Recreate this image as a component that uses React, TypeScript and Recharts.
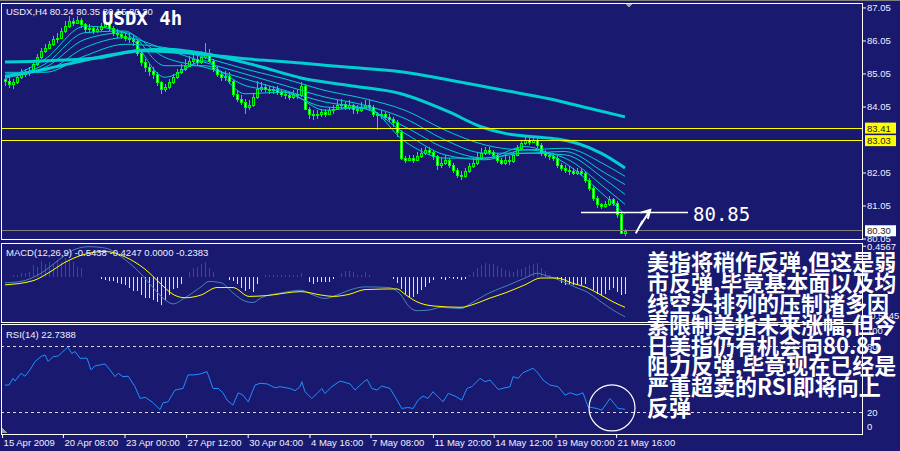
import React from 'react';
import { Bar, ComposedChart, Line, ReferenceDot, ReferenceLine, XAxis, YAxis } from 'recharts';

// H4 bars (each bar opens at the previous close)
const firstOpen = 84.9;
const closes = [
  84.85, 84.75, 84.8, 84.95, 85.05, 85.1, 85.15, 85.35, 85.55, 85.75,
  85.85, 85.95, 86.1, 86.15, 86.35, 86.5, 86.65, 86.6, 86.7, 86.55,
  86.4, 86.45, 86.35, 86.4, 86.5, 86.6, 86.45, 86.3, 86.25, 86.2,
  86.15, 86.1, 86.05, 85.7, 85.4, 85.25, 85.15, 85.05, 84.8, 84.6,
  84.65, 84.8, 84.95, 85.1, 85.2, 85.3, 85.45, 85.5, 85.4, 85.55,
  85.7, 85.45, 85.2, 85.05, 84.95, 85.0, 84.85, 84.45, 84.3, 84.2,
  84.05, 84.1, 84.35, 84.6, 84.65, 84.6, 84.55, 84.6, 84.5, 84.45,
  84.4, 84.35, 84.45, 84.4, 84.7, 84.0, 83.85, 83.8, 83.85, 83.9,
  83.85, 83.95, 84.0, 84.1, 84.15, 84.05, 84.1, 84.0, 83.95, 84.05,
  84.1, 84.05, 83.85, 83.8, 83.85, 83.75, 83.7, 83.6, 83.3, 82.5,
  82.45, 82.5, 82.45, 82.55, 82.65, 82.75, 82.7, 82.55, 82.3, 82.35,
  82.45, 82.3, 82.15, 82.0, 81.95, 82.1, 82.25, 82.35, 82.5, 82.65,
  82.75, 82.7, 82.6, 82.45, 82.35, 82.45, 82.4, 82.6, 82.8, 82.95,
  83.05, 83.0, 83.05, 82.9, 82.65, 82.6, 82.55, 82.5, 82.3, 82.2,
  82.15, 82.1, 82.05, 82.1, 82.05, 81.85, 81.6, 81.3, 81.1, 81.05,
  81.1, 81.25, 81.15, 80.8, 80.24, 80.3,
];
const highs = [
  84.98, 84.95, 84.9, 85.05, 85.2, 85.2, 85.25, 85.45, 85.65, 85.85,
  85.95, 86.05, 86.2, 86.3, 86.45, 86.65, 86.8, 86.75, 86.8, 86.75,
  86.6, 86.55, 86.5, 86.5, 86.6, 86.75, 86.65, 86.5, 86.4, 86.35,
  86.3, 86.25, 86.2, 86.1, 85.75, 85.5, 85.35, 85.25, 85.1, 84.85,
  84.75, 84.9, 85.05, 85.2, 85.35, 85.5, 85.6, 85.65, 85.6, 85.75,
  86.0, 85.8, 85.5, 85.3, 85.15, 85.15, 85.1, 84.9, 84.55, 84.4,
  84.3, 84.25, 84.45, 84.85, 84.8, 84.75, 84.7, 84.7, 84.7, 84.6,
  84.55, 84.5, 84.55, 84.55, 84.8, 84.75, 84.05, 83.95, 83.95, 84.0,
  84.0, 84.05, 84.1, 84.25, 84.3, 84.2, 84.25, 84.15, 84.1, 84.2,
  84.25, 84.25, 84.1, 83.9, 83.95, 83.9, 83.85, 83.75, 83.65, 83.35,
  82.55, 82.6, 82.6, 82.7, 82.8, 82.85, 82.85, 82.75, 82.6, 82.5,
  82.6, 82.5, 82.35, 82.2, 82.1, 82.2, 82.35, 82.5, 82.65, 82.8,
  82.85, 82.85, 82.75, 82.65, 82.5, 82.55, 82.55, 82.7, 82.9, 83.05,
  83.15, 83.15, 83.15, 83.1, 82.95, 82.75, 82.7, 82.65, 82.55, 82.35,
  82.3, 82.25, 82.2, 82.2, 82.2, 82.1, 81.9, 81.65, 81.35, 81.15,
  81.2, 81.35, 81.3, 81.2, 80.85, 80.35,
];
const lows = [
  84.7, 84.62, 84.6, 84.75, 84.9, 84.95, 85.0, 85.1, 85.3, 85.5,
  85.7, 85.8, 85.9, 86.0, 86.1, 86.3, 86.45, 86.5, 86.55, 86.45,
  86.3, 86.3, 86.25, 86.3, 86.35, 86.45, 86.35, 86.2, 86.15, 86.1,
  86.05, 86.0, 85.9, 85.6, 85.3, 85.1, 85.0, 84.9, 84.7, 84.45,
  84.5, 84.6, 84.75, 84.9, 85.05, 85.15, 85.25, 85.35, 85.3, 85.35,
  85.5, 85.4, 85.1, 84.95, 84.85, 84.85, 84.75, 84.35, 84.2, 84.1,
  83.85, 83.95, 84.05, 84.3, 84.5, 84.5, 84.45, 84.45, 84.4, 84.35,
  84.3, 84.25, 84.3, 84.3, 84.35, 83.95, 83.7, 83.65, 83.7, 83.75,
  83.75, 83.8, 83.85, 83.95, 84.0, 83.95, 83.95, 83.85, 83.85, 83.9,
  84.0, 83.95, 83.75, 83.35, 83.7, 83.65, 83.6, 83.45, 83.15, 82.45,
  82.35, 82.4, 82.35, 82.4, 82.5, 82.6, 82.6, 82.45, 82.15, 82.2,
  82.3, 82.2, 82.05, 81.9, 81.85, 81.9, 82.05, 82.2, 82.3, 82.45,
  82.6, 82.6, 82.5, 82.35, 82.3, 82.3, 82.3, 82.35, 82.55, 82.75,
  82.9, 82.9, 82.95, 82.8, 82.55, 82.5, 82.45, 82.4, 82.2, 82.1,
  82.05, 82.0, 82.0, 82.0, 81.95, 81.75, 81.5, 81.2, 81.0, 80.95,
  81.0, 81.05, 81.05, 80.7, 80.2, 80.15,
];

const priceTicks = [87.05, 86.05, 85.05, 84.05, 82.05, 81.05, 80.05];
const resistance = [83.41, 83.03];
const lastPrice = 80.3;
const target = 80.85;

// moving-average ribbon, [bar, value]
const maSlowA = [[0, 85.41], [11, 85.45], [24, 85.55], [34, 85.75], [49, 85.65], [61, 85.5], [74, 85.38], [86, 85.25], [99, 85.12], [111, 84.87], [124, 84.57], [136, 84.3], [146, 84.01], [155, 83.75]];
const maSlowB = [[0, 84.97], [7, 85.12], [15, 85.33], [24, 85.57], [34, 85.77], [40, 85.8], [52, 85.62], [63, 85.3], [74, 84.93], [86, 84.7], [99, 84.45], [111, 83.9], [119, 83.45], [125, 83.25], [132, 83.15], [138, 83.08], [143, 82.95], [149, 82.65], [155, 82.2]];
const ribbonBars = [0, 10, 20, 30, 40, 50, 60, 70, 80, 90, 100, 110, 120, 130, 140, 150, 155];
const ribbon = [
  [84.9, 85.5, 86.5, 86.3, 84.95, 85.45, 84.45, 84.5, 83.95, 84.05, 83.0, 82.5, 82.5, 82.85, 82.35, 81.35, 80.8],
  [84.95, 85.35, 86.3, 86.35, 85.3, 85.3, 84.7, 84.5, 84.05, 84.0, 83.25, 82.6, 82.45, 82.75, 82.5, 81.6, 81.1],
  [85.0, 85.25, 86.1, 86.3, 85.55, 85.25, 84.9, 84.55, 84.2, 84.0, 83.45, 82.8, 82.5, 82.65, 82.6, 81.85, 81.4],
  [85.05, 85.15, 85.85, 86.15, 85.8, 85.4, 85.05, 84.7, 84.35, 84.1, 83.7, 83.05, 82.65, 82.65, 82.7, 82.05, 81.7],
  [85.1, 85.1, 85.6, 85.95, 85.85, 85.55, 85.2, 84.9, 84.55, 84.3, 83.95, 83.35, 82.9, 82.75, 82.8, 82.3, 81.95],
];

// hand-drawn arrow, [bar, price]
const arrowShaft = [[157.7, 80.22], [159.4, 80.6], [158.8, 80.45], [161.3, 80.93]];
const arrowHead = [[158.9, 80.85], [161.3, 80.93], [160.7, 80.66]];

// MACD(12,26,9)
const macdHist = [
  0.01, 0.01, 0.03, 0.03, 0.06, 0.06, 0.08, 0.18, 0.15, 0.24,
  0.2, 0.23, 0.2, 0.25, 0.23, 0.28, 0.25, 0.23, 0.15, 0.13,
  0, 0.01, 0.01, 0, -0.03, -0.04, -0.05, -0.06, -0.08, -0.1,
  -0.12, -0.16, -0.2, -0.2, -0.26, -0.3, -0.31, -0.34, -0.36, -0.4,
  -0.34, -0.26, -0.17, -0.15, -0.1, 0, 0.08, 0.13, 0.15, 0.2,
  0.23, 0.13, 0.08, 0, 0, 0, -0.04, -0.06, -0.1, -0.15,
  -0.2, -0.17, -0.21, -0.1, 0, 0.04, 0.04, 0.04, 0.04, 0.04,
  0.03, 0.04, 0.04, 0.03, 0.07, 0, -0.07, -0.1, -0.07, -0.07,
  -0.07, -0.07, -0.02, 0, 0.07, 0.09, 0.09, 0.08, 0.04, 0.04,
  0.08, 0.04, 0.01, 0.01, 0.01, 0.01, 0, -0.02, -0.09, -0.17,
  -0.24, -0.29, -0.29, -0.24, -0.19, -0.14, -0.09, -0.04, 0, -0.03,
  -0.04, -0.01, -0.02, -0.03, -0.04, -0.02, 0.03, 0.08, 0.13, 0.18,
  0.21, 0.2, 0.19, 0.16, 0.13, 0.11, 0.1, 0.08, 0.12, 0.12,
  0.15, 0.18, 0.2, 0.21, 0.14, 0.1, 0.03, 0, -0.04, -0.09,
  -0.11, -0.12, -0.11, -0.12, -0.12, -0.1, 0, -0.19, -0.24, -0.26,
  -0.24, -0.19, -0.16, -0.22, -0.26, -0.24,
];
const macdMain = [[0, -0.08], [4, -0.06], [9, 0.06], [14, 0.28], [17, 0.4], [21, 0.45], [25, 0.43], [30, 0.26], [34, 0.05], [37, -0.15], [40, -0.33], [42, -0.39], [45, -0.3], [49, -0.14], [51, -0.06], [54, -0.08], [57, -0.23], [60, -0.35], [62, -0.37], [64, -0.3], [69, -0.23], [74, -0.19], [77, -0.26], [80, -0.31], [83, -0.26], [86, -0.19], [90, -0.14], [96, -0.15], [99, -0.26], [101, -0.43], [103, -0.49], [106, -0.48], [109, -0.44], [114, -0.46], [116, -0.4], [120, -0.26], [126, -0.11], [130, -0.01], [133, 0.06], [135, 0.03], [139, -0.05], [143, -0.155], [145, -0.2], [149, -0.36], [152, -0.48], [155, -0.58]];
const macdSignal = [[0, -0.11], [7, -0.05], [11, 0.07], [15, 0.22], [20, 0.34], [25, 0.38], [30, 0.3], [35, 0.12], [39, -0.1], [42, -0.25], [45, -0.3], [49, -0.26], [53, -0.15], [57, -0.15], [61, -0.28], [65, -0.27], [74, -0.21], [79, -0.26], [82, -0.28], [86, -0.25], [90, -0.18], [98, -0.17], [100, -0.25], [103, -0.36], [107, -0.42], [114, -0.44], [117, -0.4], [121, -0.31], [125, -0.23], [130, -0.11], [134, -0.01], [138, -0.01], [142, -0.09], [145, -0.14], [149, -0.26], [152, -0.36], [155, -0.44]];
const macdTicks = [0.4567, -0.5645];

// RSI(14), [bar, value]
const rsi = [
  [0, 44.9], [1, 44.9], [2, 51.1], [2.5, 48.6], [4, 55.7], [5, 53], [6.25, 58.8], [7.5, 66.5], [9, 71], [10, 72.6],
  [10.8, 66.5], [12, 71], [13.3, 71.5], [14.5, 75.7], [15.7, 79.7], [16.7, 73.8], [17.5, 75.7], [18.75, 69.5], [20.5, 69.5], [21.5, 58.8],
  [22.5, 62.5], [25, 64.3], [26.25, 58.8], [27.5, 52.6], [28.3, 55.7], [29.5, 52.6], [30.8, 53], [32.5, 43.4], [33.75, 32.6], [35, 33.7],
  [36.75, 29.5], [38.75, 22.4], [39.5, 28.6], [40.75, 29.5], [42.5, 40.3], [44.5, 41.8], [45.75, 54.2], [47, 54.2], [48.75, 55], [50.5, 57.2],
  [52, 41.8], [53.3, 41.8], [54.5, 37.8], [55.5, 31.1], [57, 26.5], [58.3, 37.8], [59.5, 35.7], [60.8, 29.5], [62.5, 44.9], [63.75, 46.5],
  [65.5, 46], [67.5, 42.4], [68.75, 43.4], [71.25, 41.8], [72.5, 39.7], [73.75, 43.4], [74.2, 48], [75, 38.8], [76.7, 32.6], [78, 37.2],
  [79.2, 41.8], [80, 37.2], [81.7, 43.4], [83.75, 48.6], [86.25, 46], [87.5, 40.3], [89.5, 47.3], [90.5, 50.2], [91.7, 41.8], [93, 40.3],
  [94.2, 44], [96.25, 41.8], [98, 31.1], [99.2, 23.4], [100.7, 24.3], [102, 23.4], [103.3, 31.1], [104.5, 34.8], [105.75, 32.6], [107, 38.8],
  [109.5, 29.5], [110.8, 37.2], [112.5, 34.8], [114.2, 31.1], [115.5, 41.8], [116.7, 43.4], [118.75, 51.1], [120, 48], [121.25, 49.5], [123.3, 40.9],
  [126.25, 43.4], [127, 52.6], [128.3, 51.1], [129.5, 56.3], [132, 60.3], [133.3, 55.7], [134.5, 49.5], [136.25, 44.9], [138.3, 43.4], [140, 35.7],
  [141.25, 37.8], [143, 35.7], [144.5, 37.8], [145.75, 24.9], [148, 23.4], [149.2, 21.8], [151.25, 32.6], [153.3, 23.4], [155, 22.7],
];
const rsiTicks = [100, 80, 20, 0];
const rsiLevels = [80, 20];
const rsiCircle = { bar: 151.75, value: 23.9 };

const dateTicks = [-0.6, 14.6, 30, 45.4, 60.8, 76.25, 91.5, 107.1, 122.3, 137.75, 152.9];
const dateLabels = ['15 Apr 2009', '20 Apr 08:00', '23 Apr 00:00', '27 Apr 12:00', '30 Apr 04:00', '4 May 16:00', '7 May 08:00', '11 May 20:00', '14 May 12:00', '19 May 00:00', '21 May 16:00'];

const note = [
  '美指将稍作反弹,但这是弱',
  '市反弹,毕竟基本面以及均',
  '线空头排列的压制诸多因',
  '素限制美指未来涨幅,但今',
  '日美指仍有机会向80.85',
  '阻力反弹,毕竟现在已经是',
  '严重超卖的RSI即将向上',
  '反弹',
];

const NAVY = '#191970';
const CYAN = '#00ced1';
const LIME = '#00ff00';
const TXT = '#f0f0ff';
const FONT = '"Liberation Sans", Arial, sans-serif';
const X_DOMAIN: [number, number] = [-0.75, 214.25];
const CW = 898;
const AXW = 38;
const M = { top: 0, right: 0, bottom: 0, left: 0 };

const pts = (a: number[][]) => a.map(([i, v]) => ({ i, v }));

const candles = closes.map((c, i) => ({
  i,
  o: i === 0 ? firstOpen : closes[i - 1],
  h: highs[i],
  l: lows[i],
  c,
  range: [lows[i], highs[i]],
}));
const histRows = macdHist.map((h, i) => ({ i, h }));

function Candle(props: any) {
  const { x, y, width, height, payload } = props;
  if (!payload || height == null || isNaN(y)) return null;
  const { o, h, l, c } = payload;
  const cx = Math.round(x + width / 2) + 0.5;
  const py = (v: number) => y + ((h - v) / (h - l)) * height;
  const top = Math.round(py(Math.max(o, c)));
  const bot = Math.round(py(Math.min(o, c)));
  return (
    <g shapeRendering="crispEdges">
      <line x1={cx} x2={cx} y1={Math.round(y)} y2={Math.round(y + height)} stroke={LIME} />
      <rect x={cx - 1} y={top + 0.5} width={2} height={Math.max(bot - top, 1)} fill={c < o ? '#ffffff' : NAVY} stroke={LIME} />
    </g>
  );
}

function HistBar(props: any) {
  const { x, y, width, height, payload } = props;
  if (!payload || !payload.h || isNaN(y)) return null;
  const cx = Math.round(x + width / 2) + 0.5;
  const y1 = Math.min(y, y + height);
  const y2 = Math.max(y, y + height);
  return <line x1={cx} x2={cx} y1={y1} y2={y2} stroke={payload.h > 0 ? '#ff0000' : '#ffff00'} shapeRendering="crispEdges" />;
}

function PriceTag(props: any) {
  const { viewBox, text, bg, color } = props;
  if (!viewBox) return null;
  const x = viewBox.x + viewBox.width + 3;
  const y = viewBox.y;
  return (
    <g>
      <rect x={x} y={y - 5.5} width={31} height={11} fill={bg} />
      <text x={x + 2} y={y + 3.5} fontSize={9.5} fontFamily={FONT} fill={color}>{text}</text>
    </g>
  );
}

function RsiTick(props: any) {
  const { x, y, payload } = props;
  const off = payload.value === 100 ? 6 : payload.value === 0 ? -7 : 0;
  return (
    <text x={x} y={y + off} dy="0.35em" fontSize={9.5} fontFamily={FONT} fill={TXT} textAnchor="start">
      {payload.value}
    </text>
  );
}

function DateTick(props: any) {
  const { x, y, index } = props;
  return (
    <text x={x + 1} y={y + 8} fontSize={9.5} fontFamily={FONT} fill={TXT} textAnchor="start">
      {dateLabels[index]}
    </text>
  );
}

const axisTick = { fill: TXT, fontSize: 9.5, fontFamily: FONT };

export default function App() {
  return (
    <div style={{ position: 'fixed', left: 0, top: 0, width: 900, height: 451, background: NAVY, overflow: 'hidden' }}>
      <style>{'.recharts-surface{overflow:visible}'}</style>

      <div style={{ position: 'absolute', left: 2, top: 3 }}>
        <ComposedChart width={CW} height={236} data={candles} margin={M}>
          <XAxis dataKey="i" type="number" domain={X_DOMAIN} hide allowDataOverflow />
          <YAxis
            orientation="right"
            width={AXW}
            domain={[80.05, 87.2]}
            ticks={priceTicks}
            interval={0}
            tick={axisTick}
            tickLine={{ stroke: '#ffffff' }}
            tickSize={4}
            tickMargin={1}
            axisLine={false}
            tickFormatter={(v: number) => v.toFixed(2)}
            allowDataOverflow
          />
          {ribbon.map((row, k) => (
            <Line
              key={`rb${k}`}
              data={row.map((v, j) => ({ i: ribbonBars[j], v }))}
              dataKey="v"
              type="monotone"
              stroke={CYAN}
              strokeWidth={1}
              dot={false}
              isAnimationActive={false}
            />
          ))}
          <Line data={pts(maSlowB)} dataKey="v" type="monotone" stroke={CYAN} strokeWidth={3} dot={false} isAnimationActive={false} />
          <Line data={pts(maSlowA)} dataKey="v" type="monotone" stroke={CYAN} strokeWidth={3} dot={false} isAnimationActive={false} />
          <Bar dataKey="range" barSize={3} shape={(p: any) => <Candle {...p} />} isAnimationActive={false} />
          {resistance.map((r) => (
            <ReferenceLine
              key={r}
              y={r}
              stroke="#ffff00"
              shapeRendering="crispEdges"
              label={<PriceTag text={r.toFixed(2)} bg="#ffff00" color="#1a1a1a" />}
            />
          ))}
          <ReferenceLine
            y={lastPrice}
            stroke="#808080"
            shapeRendering="crispEdges"
            label={<PriceTag text={lastPrice.toFixed(2)} bg="#ffffff" color="#1a1a1a" />}
          />
          <ReferenceLine segment={[{ x: 144, y: target }, { x: 170.75, y: target }]} stroke="#ffffff" strokeWidth={1.5} />
          <Line data={pts(arrowShaft)} dataKey="v" type="linear" stroke="#ffffff" strokeWidth={2} dot={false} isAnimationActive={false} />
          <Line data={pts(arrowHead)} dataKey="v" type="linear" stroke="#ffffff" strokeWidth={2} dot={false} isAnimationActive={false} />
        </ComposedChart>
      </div>

      <div style={{ position: 'absolute', left: 2, top: 243 }}>
        <ComposedChart width={CW} height={79} data={histRows} margin={M}>
          <XAxis dataKey="i" type="number" domain={X_DOMAIN} hide allowDataOverflow />
          <YAxis
            orientation="right"
            width={AXW}
            domain={[-0.656, 0.504]}
            ticks={macdTicks}
            interval={0}
            tick={axisTick}
            tickLine={{ stroke: '#ffffff' }}
            tickSize={4}
            tickMargin={1}
            axisLine={false}
            tickFormatter={(v: number) => v.toFixed(4)}
            allowDataOverflow
          />
          <Bar dataKey="h" barSize={1} shape={(p: any) => <HistBar {...p} />} isAnimationActive={false} />
          <Line data={pts(macdMain)} dataKey="v" type="monotone" stroke="#4682b4" strokeWidth={1} dot={false} isAnimationActive={false} />
          <Line data={pts(macdSignal)} dataKey="v" type="monotone" stroke="#ffff00" strokeWidth={1} dot={false} isAnimationActive={false} />
        </ComposedChart>
      </div>

      <div style={{ position: 'absolute', left: 2, top: 325 }}>
        <ComposedChart width={CW} height={126} data={pts(rsi)} margin={M}>
          <XAxis
            dataKey="i"
            type="number"
            domain={X_DOMAIN}
            ticks={dateTicks}
            interval={0}
            height={17}
            tick={(p: any) => <DateTick {...p} />}
            tickLine={{ stroke: '#ffffff' }}
            tickSize={4}
            tickMargin={0}
            axisLine={false}
            allowDataOverflow
          />
          <YAxis
            orientation="right"
            width={AXW}
            domain={[0, 100]}
            ticks={rsiTicks}
            interval={0}
            tick={(p: any) => <RsiTick {...p} />}
            tickLine={false}
            tickSize={4}
            tickMargin={1}
            axisLine={false}
            allowDataOverflow
          />
          {rsiLevels.map((lv) => (
            <ReferenceLine key={lv} y={lv} stroke="#d8d8d8" strokeDasharray="3 3" shapeRendering="crispEdges" />
          ))}
          <Line dataKey="v" type="linear" stroke="#1e90ff" strokeWidth={1} dot={false} isAnimationActive={false} />
          <ReferenceDot x={rsiCircle.bar} y={rsiCircle.value} r={23} fill="none" stroke="#ffffff" strokeWidth={1.2} />
        </ComposedChart>
      </div>

      <svg width={900} height={451} style={{ position: 'absolute', left: 0, top: 0, pointerEvents: 'none' }}>
        <text x={6} y={15} fontSize={9.5} fontFamily={FONT} fill={TXT}>USDX,H4  80.24 80.35 80.15 80.30</text>
        <text x={102} y={25} fontSize={19} fontWeight={700} fontFamily='"DejaVu Sans Mono", monospace' fill="#ffffff">USDX 4h</text>
        <text x={693} y={221} fontSize={19} fontFamily='"DejaVu Sans Mono", monospace' fill="#ffffff">80.85</text>
        <text x={6} y={256} fontSize={9.5} fontFamily={FONT} fill={TXT}>MACD(12,26,9) -0.5438 -0.4247 0.0000 -0.2383</text>
        <text x={6} y={338} fontSize={9.5} fontFamily={FONT} fill={TXT}>RSI(14) 22.7388</text>
        {note.map((line, k) => (
          <text
            key={k}
            x={647}
            y={270.4 + k * 20.8}
            fontSize={22}
            fontWeight={700}
            fontFamily='"Noto Sans CJK SC", sans-serif'
            fill="#ffffff"
          >
            {line}
          </text>
        ))}
      </svg>

      <svg width={900} height={451} style={{ position: 'absolute', left: 0, top: 0, pointerEvents: 'none' }} shapeRendering="crispEdges">
        <line x1={0} x2={900} y1={0.5} y2={0.5} stroke="#808080" />
        <rect x={1.5} y={3.5} width={861} height={236} fill="none" stroke="#ffffff" />
        <rect x={1.5} y={243.5} width={861} height={79} fill="none" stroke="#ffffff" />
        <rect x={1.5} y={324.5} width={861} height={110} fill="none" stroke="#ffffff" />
        <polygon points="625,4 633,4 629,7" fill="#a0a0a0" />
        <polygon points="2,433 2,428 7,433" fill="#a0a0a0" />
      </svg>
    </div>
  );
}
